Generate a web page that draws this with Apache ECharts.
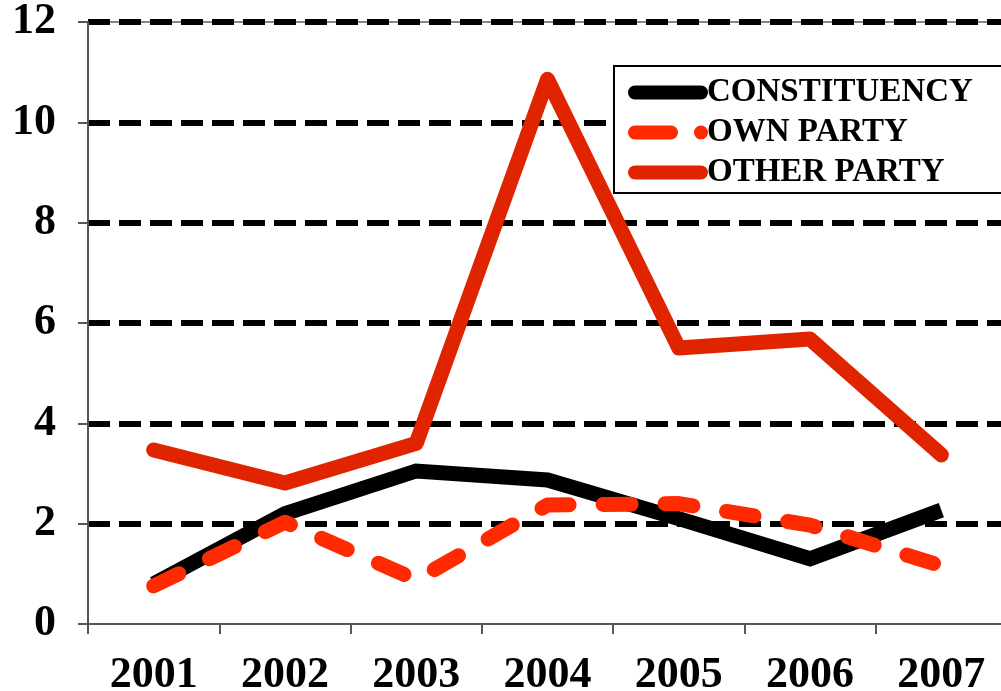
<!DOCTYPE html>
<html>
<head>
<meta charset="utf-8">
<script src="https://cdn.jsdelivr.net/npm/echarts@6/dist/echarts.min.js"></script>
<style>html,body{margin:0;padding:0;background:#fff}#c{width:1001px;height:691px}</style>
</head>
<body>
<div id="c"></div>
<script>
var categories = ['2001', '2002', '2003', '2004', '2005', '2006', '2007'];
var constituency = [0.8, 2.2, 3.05, 2.87, 2.1, 1.3, 2.27];
var ownParty = [0.76, 2.03, 0.88, 2.37, 2.4, 1.97, 1.16];
var otherParty = [3.47, 2.81, 3.6, 10.86, 5.5, 5.68, 3.37];
var yTicks = { min: 0, max: 12, interval: 2 };

var fontFam = '"Liberation Serif", "DejaVu Serif", serif';
var pill = 'path://M7,0 H73 A7,7 0 0 1 73,14 H7 A7,7 0 0 1 7,0 Z';
var dashPill = 'path://M7,0 H43 A7,7 0 0 1 43,14 H7 A7,7 0 0 1 7,0 Z M73,0 A7,7 0 0 1 73,14 A7,7 0 0 1 73,0 Z';
var chart = echarts.init(document.getElementById('c'), null, { renderer: 'canvas' });
chart.setOption({
  animation: false,
  backgroundColor: '#fff',
  grid: { left: 88, top: 22, width: 919, height: 602, show: true, borderColor: '#888', borderWidth: 2,
    backgroundColor: 'transparent', outerBoundsMode: 'none', containLabel: false },
  legend: {
    left: 614, top: 66,
    orient: 'vertical',
    backgroundColor: '#fff',
    borderColor: '#000', borderWidth: 2,
    padding: [10, 60, 4, 14],
    itemWidth: 80, itemHeight: 14, itemGap: 7,
    textStyle: { fontFamily: fontFam, fontWeight: 'bold', fontSize: 33, color: '#000', padding: [0, 0, 0, -6] },
    data: [
      { name: 'CONSTITUENCY', icon: pill, itemStyle: { color: '#000' } },
      { name: 'OWN PARTY', icon: dashPill, itemStyle: { color: '#ff2a00' } },
      { name: 'OTHER PARTY', icon: pill, itemStyle: { color: '#e02400' } }
    ]
  },
  xAxis: {
    type: 'category', data: categories, boundaryGap: true,
    axisLine: { lineStyle: { color: '#555', width: 2 } },
    axisTick: { show: true, interval: 0, length: 10, lineStyle: { color: '#555', width: 2 } },
    axisLabel: { interval: 0, margin: 30, fontFamily: fontFam, fontWeight: 'bold', fontSize: 44, color: '#000' },
    splitLine: { show: false }
  },
  yAxis: {
    type: 'value', min: yTicks.min, max: yTicks.max, interval: yTicks.interval,
    axisLine: { show: true, lineStyle: { color: '#555', width: 2 } },
    axisTick: { show: true, length: 10, lineStyle: { color: '#555', width: 2 } },
    axisLabel: { margin: 32, fontFamily: fontFam, fontWeight: 'bold', fontSize: 44, color: '#000' },
    splitLine: { show: true, lineStyle: { color: ['transparent', '#000', '#000', '#000', '#000', '#000', '#000'], width: 6, type: [22, 9] } }
  },
  series: [
    { name: 'CONSTITUENCY', type: 'line', data: constituency, symbol: 'none', z: 3,
      lineStyle: { color: '#000', width: 15, cap: 'butt', join: 'miter' }, itemStyle: { color: '#000' } },
    { name: 'OWN PARTY', type: 'line', data: ownParty, symbol: 'none', z: 4,
      lineStyle: { color: '#ff2a00', width: 15, type: [28, 34], cap: 'round', join: 'round' }, itemStyle: { color: '#ff2a00' } },
    { name: 'OTHER PARTY', type: 'line', data: otherParty, symbol: 'none', z: 5,
      lineStyle: { color: '#e02400', width: 15, cap: 'round', join: 'round' }, itemStyle: { color: '#e02400' } }
  ]
});
</script>
</body>
</html>
